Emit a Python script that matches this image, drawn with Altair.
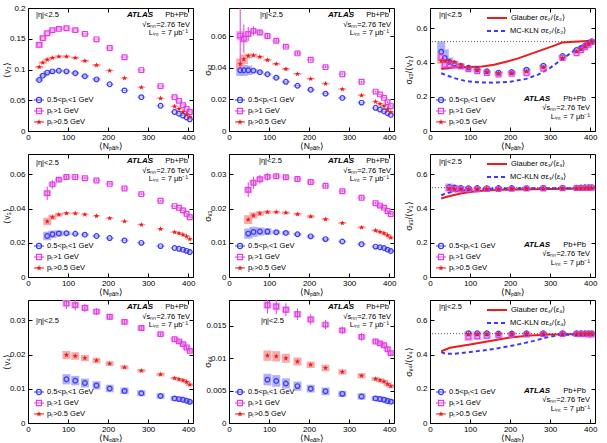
import altair as alt
import pandas as pd

# ---------------- data ----------------
N_V2 = [28, 37, 48, 61, 77, 96, 118, 142, 171, 204, 241, 283, 331, 366, 377, 387, 396, 404]
N_V3 = [48, 61, 77, 96, 118, 142, 171, 204, 241, 283, 331, 366, 377, 387, 396, 404]
N_V4 = [96, 118, 142, 171, 204, 241, 283, 331, 366, 377, 387, 396, 404]

# row 1 : <v2>, sigma_v2, sigma/<v2>
V2_MID = [0.083, 0.090, 0.095, 0.097, 0.098, 0.097, 0.094, 0.089, 0.084, 0.076, 0.066, 0.055, 0.041, 0.031, 0.028, 0.025, 0.022, 0.019]
V2_HIGH = [0.140, 0.151, 0.159, 0.164, 0.166, 0.167, 0.164, 0.158, 0.149, 0.135, 0.120, 0.099, 0.073, 0.055, 0.049, 0.042, 0.036, 0.031]
V2_ALL = [0.104, 0.111, 0.116, 0.119, 0.121, 0.121, 0.119, 0.114, 0.107, 0.098, 0.086, 0.071, 0.053, 0.040, 0.036, 0.031, 0.027, 0.023]
V2_MID_SYS = [0.002, 0.002, 0.002, 0.002, 0.002, 0.002, 0.002, 0.002, 0.002, 0.001, 0.001, 0.001, 0.001, 0.001, 0.001, 0.001, 0.001, 0.001]
V2_HIGH_SYS = [0.005, 0.004, 0.003, 0.003, 0.003, 0.003, 0.003, 0.002, 0.002, 0.002, 0.002, 0.002, 0.002, 0.002, 0.002, 0.002, 0.002, 0.002]
V2_ALL_SYS = [0.002, 0.002, 0.002, 0.002, 0.002, 0.002, 0.002, 0.002, 0.002, 0.001, 0.001, 0.001, 0.001, 0.001, 0.001, 0.001, 0.001, 0.001]

S2_MID = [0.0385, 0.0385, 0.0385, 0.0383, 0.0373, 0.0360, 0.0338, 0.0312, 0.0287, 0.0262, 0.0237, 0.0210, 0.0180, 0.0147, 0.0136, 0.0125, 0.0113, 0.0102]
S2_HIGH = [0.0605, 0.0585, 0.0615, 0.0635, 0.0625, 0.0602, 0.0572, 0.0535, 0.0492, 0.0452, 0.0405, 0.0360, 0.0312, 0.0250, 0.0232, 0.0210, 0.0182, 0.0158]
S2_ALL = [0.0425, 0.0455, 0.0476, 0.0480, 0.0470, 0.0450, 0.0425, 0.0393, 0.0362, 0.0331, 0.0300, 0.0265, 0.0226, 0.0186, 0.0172, 0.0157, 0.0138, 0.0120]
S2_MID_SYS = [0.0035, 0.0035, 0.0030, 0.0010, 0.0008, 0.0008, 0.0007, 0.0007, 0.0006, 0.0006, 0.0005, 0.0005, 0.0005, 0.0004, 0.0004, 0.0004, 0.0004, 0.0004]
S2_HIGH_SYS = [0.0030, 0.0025, 0.0015, 0.0012, 0.0010, 0.0010, 0.0009, 0.0008, 0.0008, 0.0007, 0.0007, 0.0006, 0.0006, 0.0005, 0.0005, 0.0005, 0.0005, 0.0005]
S2_HIGH_STAT = [0.0200, 0.0090, 0.0045, 0.0030, 0.0020, 0.0015, 0.0012, 0.0010, 0.0009, 0.0008, 0.0007, 0.0006, 0.0006, 0.0005, 0.0005, 0.0005, 0.0005, 0.0005]
S2_ALL_SYS = [0.0035, 0.0030, 0.0015, 0.0010, 0.0008, 0.0008, 0.0007, 0.0007, 0.0006, 0.0006, 0.0005, 0.0005, 0.0005, 0.0004, 0.0004, 0.0004, 0.0004, 0.0004]

R2_MID = [0.464, 0.428, 0.405, 0.395, 0.381, 0.371, 0.360, 0.350, 0.342, 0.345, 0.359, 0.382, 0.439, 0.474, 0.486, 0.500, 0.514, 0.526]
R2_HIGH = [0.432, 0.388, 0.387, 0.387, 0.377, 0.361, 0.349, 0.339, 0.330, 0.335, 0.338, 0.364, 0.427, 0.455, 0.473, 0.490, 0.505, 0.520]
R2_ALL = [0.409, 0.410, 0.410, 0.403, 0.388, 0.372, 0.357, 0.345, 0.338, 0.338, 0.349, 0.373, 0.426, 0.465, 0.478, 0.495, 0.511, 0.524]
R2_MID_SYS = [0.060, 0.050, 0.025, 0.015, 0.010, 0.008, 0.008, 0.008, 0.008, 0.008, 0.008, 0.008, 0.008, 0.008, 0.008, 0.008, 0.008, 0.008]
R2_HIGH_SYS = [0.030, 0.030, 0.020, 0.012, 0.010, 0.008, 0.008, 0.008, 0.008, 0.008, 0.008, 0.008, 0.008, 0.008, 0.008, 0.008, 0.008, 0.008]
R2_ALL_SYS = [0.015, 0.012, 0.010, 0.008, 0.008, 0.006, 0.006, 0.006, 0.006, 0.006, 0.006, 0.006, 0.006, 0.006, 0.006, 0.006, 0.006, 0.006]

# row 2 : <v3>, sigma_v3, sigma/<v3>
V3_MID = [0.0240, 0.0250, 0.0255, 0.0256, 0.0253, 0.0248, 0.0240, 0.0228, 0.0214, 0.0200, 0.0181, 0.0170, 0.0165, 0.0160, 0.0153, 0.0146]
V3_HIGH = [0.0490, 0.0542, 0.0570, 0.0585, 0.0585, 0.0578, 0.0565, 0.0545, 0.0518, 0.0485, 0.0446, 0.0415, 0.0405, 0.0390, 0.0370, 0.0350]
V3_ALL = [0.0325, 0.0350, 0.0365, 0.0373, 0.0372, 0.0366, 0.0357, 0.0344, 0.0326, 0.0306, 0.0281, 0.0262, 0.0256, 0.0248, 0.0238, 0.0222]
V3_MID_SYS = [0.0025, 0.0022, 0.0018, 0.0012, 0.0007, 0.0006, 0.0006, 0.0005, 0.0005, 0.0005, 0.0005, 0.0004, 0.0004, 0.0004, 0.0004, 0.0004]
V3_HIGH_SYS = [0.0015, 0.0012, 0.0010, 0.0010, 0.0008, 0.0008, 0.0008, 0.0008, 0.0007, 0.0007, 0.0007, 0.0006, 0.0006, 0.0006, 0.0006, 0.0006]
V3_HIGH_STAT = [0.0040, 0.0025, 0.0012, 0.0010, 0.0008, 0.0006, 0.0005, 0.0005, 0.0004, 0.0004, 0.0004, 0.0003, 0.0003, 0.0003, 0.0003, 0.0003]
V3_ALL_SYS = [0.0022, 0.0015, 0.0010, 0.0007, 0.0006, 0.0005, 0.0005, 0.0005, 0.0004, 0.0004, 0.0004, 0.0004, 0.0004, 0.0004, 0.0004, 0.0004]

S3_MID = [0.0127, 0.0132, 0.0133, 0.0133, 0.0131, 0.0129, 0.0125, 0.0119, 0.0111, 0.0104, 0.0096, 0.0089, 0.0087, 0.0085, 0.0080, 0.0076]
S3_HIGH = [0.0255, 0.0276, 0.0286, 0.0293, 0.0295, 0.0292, 0.0287, 0.0278, 0.0267, 0.0251, 0.0232, 0.0216, 0.0209, 0.0203, 0.0193, 0.0184]
S3_ALL = [0.0168, 0.0180, 0.0186, 0.0190, 0.0190, 0.0188, 0.0184, 0.0177, 0.0169, 0.0158, 0.0145, 0.0136, 0.0132, 0.0128, 0.0122, 0.0115]
S3_MID_SYS = [0.0015, 0.0015, 0.0012, 0.0010, 0.0006, 0.0005, 0.0004, 0.0004, 0.0004, 0.0003, 0.0003, 0.0003, 0.0003, 0.0003, 0.0003, 0.0003]
S3_HIGH_SYS = [0.0010, 0.0008, 0.0007, 0.0006, 0.0005, 0.0005, 0.0005, 0.0005, 0.0004, 0.0004, 0.0004, 0.0004, 0.0004, 0.0004, 0.0004, 0.0004]
S3_HIGH_STAT = [0.0022, 0.0018, 0.0013, 0.0011, 0.0008, 0.0006, 0.0005, 0.0004, 0.0004, 0.0004, 0.0003, 0.0003, 0.0003, 0.0003, 0.0003, 0.0003]
S3_ALL_SYS = [0.0013, 0.0009, 0.0007, 0.0005, 0.0004, 0.0004, 0.0004, 0.0004, 0.0003, 0.0003, 0.0003, 0.0003, 0.0003, 0.0003, 0.0003, 0.0003]

R3_MID = [0.527, 0.524, 0.522, 0.520, 0.521, 0.520, 0.521, 0.521, 0.520, 0.521, 0.522, 0.523, 0.524, 0.525, 0.525, 0.526]
R3_HIGH = [0.520, 0.515, 0.512, 0.513, 0.514, 0.515, 0.515, 0.516, 0.517, 0.518, 0.519, 0.520, 0.520, 0.521, 0.521, 0.522]
R3_ALL = [0.518, 0.516, 0.516, 0.515, 0.515, 0.516, 0.516, 0.516, 0.517, 0.518, 0.519, 0.519, 0.520, 0.520, 0.521, 0.521]
R3_MID_SYS = [0.020, 0.015, 0.010, 0.008, 0.006, 0.005, 0.005, 0.005, 0.005, 0.005, 0.005, 0.005, 0.005, 0.005, 0.005, 0.005]
R3_HIGH_SYS = [0.025, 0.020, 0.015, 0.012, 0.010, 0.008, 0.006, 0.005, 0.005, 0.005, 0.005, 0.005, 0.005, 0.005, 0.005, 0.005]
R3_ALL_SYS = [0.012, 0.010, 0.008, 0.006, 0.005, 0.005, 0.005, 0.005, 0.005, 0.005, 0.005, 0.005, 0.005, 0.005, 0.005, 0.005]

# row 3 : <v4>, sigma_v4, sigma/<v4>
V4_MID = [0.0128, 0.0124, 0.0117, 0.0110, 0.0101, 0.0094, 0.0087, 0.0079, 0.0072, 0.0070, 0.0068, 0.0065, 0.0062]
V4_HIGH = [0.0350, 0.0345, 0.0337, 0.0326, 0.0311, 0.0296, 0.0278, 0.0260, 0.0245, 0.0239, 0.0231, 0.0221, 0.0211]
V4_ALL = [0.0199, 0.0196, 0.0190, 0.0183, 0.0174, 0.0163, 0.0153, 0.0142, 0.0131, 0.0128, 0.0125, 0.0120, 0.0112]
V4_MID_SYS = [0.0015, 0.0014, 0.0013, 0.0012, 0.0011, 0.0010, 0.0009, 0.0008, 0.0007, 0.0007, 0.0006, 0.0006, 0.0006]
V4_HIGH_SYS = [0.0010, 0.0010, 0.0009, 0.0008, 0.0008, 0.0007, 0.0007, 0.0006, 0.0006, 0.0006, 0.0006, 0.0006, 0.0005]
V4_HIGH_STAT = [0.0016, 0.0015, 0.0012, 0.0010, 0.0008, 0.0007, 0.0006, 0.0005, 0.0005, 0.0005, 0.0005, 0.0005, 0.0005]
V4_ALL_SYS = [0.0012, 0.0011, 0.0009, 0.0008, 0.0007, 0.0006, 0.0005, 0.0005, 0.0004, 0.0004, 0.0004, 0.0004, 0.0004]

S4_MID = [0.0067, 0.0065, 0.0061, 0.0057, 0.0053, 0.0049, 0.0045, 0.0041, 0.0038, 0.0037, 0.0036, 0.0034, 0.0033]
S4_HIGH = [0.0182, 0.0180, 0.0175, 0.0168, 0.0160, 0.0152, 0.0143, 0.0133, 0.0126, 0.0123, 0.0120, 0.0114, 0.0108]
S4_ALL = [0.0104, 0.0103, 0.0100, 0.0095, 0.0090, 0.0085, 0.0079, 0.0073, 0.0068, 0.0066, 0.0064, 0.0060, 0.0057]
S4_MID_SYS = [0.0009, 0.0009, 0.0008, 0.0007, 0.0006, 0.0006, 0.0005, 0.0005, 0.0004, 0.0004, 0.0004, 0.0004, 0.0004]
S4_HIGH_SYS = [0.0006, 0.0006, 0.0005, 0.0005, 0.0005, 0.0004, 0.0004, 0.0004, 0.0003, 0.0003, 0.0003, 0.0003, 0.0003]
S4_HIGH_STAT = [0.0013, 0.0012, 0.0010, 0.0009, 0.0008, 0.0007, 0.0006, 0.0006, 0.0004, 0.0004, 0.0004, 0.0004, 0.0004]
S4_ALL_SYS = [0.0008, 0.0008, 0.0007, 0.0006, 0.0005, 0.0005, 0.0004, 0.0004, 0.0003, 0.0003, 0.0003, 0.0003, 0.0003]

R4_MID = [0.525, 0.525, 0.525, 0.524, 0.524, 0.525, 0.525, 0.526, 0.526, 0.526, 0.525, 0.525, 0.525]
R4_HIGH = [0.505, 0.508, 0.510, 0.513, 0.516, 0.518, 0.520, 0.520, 0.520, 0.520, 0.520, 0.518, 0.518]
R4_ALL = [0.520, 0.521, 0.522, 0.522, 0.523, 0.523, 0.523, 0.523, 0.523, 0.523, 0.523, 0.523, 0.523]
R4_MID_SYS = [0.012, 0.010, 0.010, 0.008, 0.008, 0.006, 0.006, 0.006, 0.006, 0.006, 0.006, 0.006, 0.006]
R4_HIGH_SYS = [0.025, 0.022, 0.018, 0.014, 0.010, 0.008, 0.006, 0.006, 0.006, 0.006, 0.006, 0.006, 0.006]
R4_ALL_SYS = [0.010, 0.008, 0.008, 0.006, 0.006, 0.005, 0.005, 0.005, 0.005, 0.005, 0.005, 0.005, 0.005]

# model curves sigma_eps/<eps>
GLAUBER_N2 = [28, 60, 100, 130, 160, 190, 220, 250, 280, 310, 330, 360, 404]
GLAUBER_E2 = [0.365, 0.372, 0.375, 0.378, 0.388, 0.405, 0.425, 0.450, 0.475, 0.500, 0.518, 0.522, 0.528]
MCKLN_N2 = [28, 60, 90, 120, 160, 200, 240, 270, 300, 330, 360, 385, 404]
MCKLN_E2 = [0.338, 0.310, 0.292, 0.285, 0.283, 0.288, 0.305, 0.330, 0.370, 0.420, 0.470, 0.505, 0.527]
GLAUBER_N3 = [28, 40, 60, 80, 100, 130, 170, 220, 300, 404]
GLAUBER_E3 = [0.460, 0.468, 0.480, 0.490, 0.497, 0.505, 0.510, 0.512, 0.515, 0.518]
MCKLN_N3 = [28, 40, 60, 80, 100, 130, 170, 220, 300, 404]
MCKLN_E3 = [0.478, 0.490, 0.500, 0.505, 0.510, 0.515, 0.518, 0.520, 0.520, 0.520]
GLAUBER_N4 = [28, 50, 100, 150, 200, 250, 300, 350, 404]
GLAUBER_E4 = [0.420, 0.440, 0.460, 0.480, 0.500, 0.512, 0.518, 0.520, 0.520]
MCKLN_N4 = [28, 40, 60, 100, 150, 200, 250, 290, 320, 404]
MCKLN_E4 = [0.415, 0.405, 0.405, 0.415, 0.430, 0.450, 0.475, 0.500, 0.515, 0.520]
GAUSS_LIMIT = [0.523]

# ---------------- style ----------------
FONT = "Liberation Sans"
W, H = 165, 123
XDOM = [0, 412]
XTICKS = [0, 100, 200, 300, 400]
BOXW = 10
BLUE, PINK, RED = "#3a3af5", "#e040e0", "#ec1c1c"
COL = {"mid": BLUE, "high": PINK, "all": RED}
BOXC = {"mid": "#a9a9f7", "high": "#f4a6f4", "all": "#f6a3a3"}
STAR = ("M0,-1L0.235,-0.324L0.951,-0.309L0.38,0.124L0.588,0.809L0,0.4"
        "L-0.588,0.809L-0.38,0.124L-0.951,-0.309L-0.235,-0.324Z")
SHAPE = {"mid": "circle", "high": "square", "all": STAR}
FILLED = {"mid": False, "high": False, "all": True}
MSIZE = {"mid": 22, "high": 22, "all": 32}
LEG_TEXT = {"mid": "0.5<pₜ<1 GeV", "high": "pₜ>1 GeV", "all": "pₜ>0.5 GeV"}
ORDER = ["mid", "high", "all"]
ONE = pd.DataFrame({"o": [0]})


def x_main():
    return alt.Axis(orient="top", offset=-H, values=XTICKS, tickSize=4, tickColor="black",
                    labelPadding=-6, labelBaseline="top", labelAlign="center", labelFlush=False,
                    labelOverlap=False, labelFontSize=8, labelFont=FONT, labelColor="black",
                    title="⟨Nₚₐᵣₜ⟩", titleX=W / 2, titleY=14, titleAlign="center",
                    titleBaseline="middle", titleAngle=0, titleFont=FONT, titleFontSize=8.5,
                    titleFontWeight="normal", titleColor="black", domain=False, grid=False)


def x_sec():
    return alt.Axis(orient="bottom", offset=-H, values=XTICKS, tickSize=4, tickColor="black",
                    labels=False, title=None, domain=False, grid=False)


def y_main(ticks, title):
    return alt.Axis(orient="right", offset=-W, values=ticks, format="~g", tickSize=4,
                    tickColor="black", labelPadding=-7, labelAlign="right",
                    labelBaseline="middle", labelFlush=False, labelOverlap=False,
                    labelFontSize=8, labelFont=FONT, labelColor="black",
                    title=title, titleX=-22, titleY=H / 2, titleAngle=270, titleAlign="center",
                    titleBaseline="middle", titleFont=FONT, titleFontSize=8.5,
                    titleFontWeight="normal", titleColor="black", domain=False, grid=False)


def y_sec(ticks):
    return alt.Axis(orient="left", offset=-W, values=ticks, tickSize=4, tickColor="black",
                    labels=False, title=None, domain=False, grid=False)


def txt(t, px, py, align="left", size=7.5, weight="normal", style="normal"):
    return alt.Chart(ONE).mark_text(text=t, align=align, baseline="middle", font=FONT,
                                    fontSize=size, fontWeight=weight, fontStyle=style,
                                    color="black").encode(x=alt.value(px), y=alt.value(py))


def hline(x1, x2, py, color, width=1.0, dash=None):
    kw = dict(color=color, strokeWidth=width)
    if dash:
        kw["strokeDash"] = dash
    return alt.Chart(ONE).mark_rule(**kw).encode(x=alt.value(x1), x2=alt.value(x2),
                                                 y=alt.value(py))


def sym(key, px, py):
    return alt.Chart(ONE).mark_point(shape=SHAPE[key], filled=FILLED[key], color=COL[key],
                                     size=MSIZE[key] + 4, strokeWidth=1.2, opacity=1).encode(
        x=alt.value(px), y=alt.value(py))


def panel(n, data, ydom, yticks, ytitle, eta, ratio=None):
    xs = alt.Scale(domain=XDOM, nice=False, zero=False)
    ys = alt.Scale(domain=ydom, nice=False, zero=False)
    frames = {}
    for k in ORDER:
        vals, sys, stat = data[k]
        st = stat if stat else [0] * len(vals)
        frames[k] = pd.DataFrame({
            "n": n, "v": vals,
            "lo": [v - s for v, s in zip(vals, sys)],
            "hi": [v + s for v, s in zip(vals, sys)],
            "elo": [v - s for v, s in zip(vals, st)],
            "ehi": [v + s for v, s in zip(vals, st)],
            "nlo": [x - BOXW for x in n], "nhi": [x + BOXW for x in n],
        })
    layers = []
    for i, k in enumerate(ORDER):
        layers.append(alt.Chart(frames[k]).mark_rect(color=BOXC[k], opacity=0.9, clip=True).encode(
            x=alt.X("nlo:Q", scale=xs, axis=x_sec() if i == 0 else None), x2="nhi",
            y=alt.Y("lo:Q", scale=ys, axis=y_sec(yticks) if i == 0 else None), y2="hi"))
    for k in ORDER:
        if data[k][2]:
            layers.append(alt.Chart(frames[k]).mark_rule(color=COL[k], strokeWidth=1, clip=True).encode(
                x=alt.X("n:Q", scale=xs, axis=None),
                y=alt.Y("elo:Q", scale=ys, axis=None), y2="ehi"))
    if ratio:
        harm, gn, gv, mn, mv = ratio
        layers.append(alt.Chart(pd.DataFrame({"y": GAUSS_LIMIT})).mark_rule(
            color="#555555", strokeDash=[1, 2], strokeWidth=1).encode(
            y=alt.Y("y:Q", scale=ys, axis=None)))
        layers.append(alt.Chart(pd.DataFrame({"n": gn, "v": gv})).mark_line(
            color=RED, strokeWidth=2).encode(
            x=alt.X("n:Q", scale=xs, axis=None), y=alt.Y("v:Q", scale=ys, axis=None)))
        layers.append(alt.Chart(pd.DataFrame({"n": mn, "v": mv})).mark_line(
            color=BLUE, strokeWidth=2, strokeDash=[4, 3]).encode(
            x=alt.X("n:Q", scale=xs, axis=None), y=alt.Y("v:Q", scale=ys, axis=None)))
    for i, k in enumerate(ORDER):
        layers.append(alt.Chart(frames[k]).mark_point(
            shape=SHAPE[k], filled=FILLED[k], color=COL[k], size=MSIZE[k], strokeWidth=1.2,
            opacity=1, clip=True).encode(
            x=alt.X("n:Q", scale=xs, axis=x_main() if i == 0 else None),
            y=alt.Y("v:Q", scale=ys, axis=y_main(yticks, ytitle) if i == 0 else None)))
    # annotations
    layers.append(txt("|η|<2.5", eta[0], eta[1]))
    if ratio:
        harm = ratio[0]
        layers.append(hline(57, 77, 10, RED, 2))
        layers.append(txt("Glauber σε" + harm + "/⟨ε" + harm + "⟩", 81, 10))
        layers.append(hline(57, 77, 23, BLUE, 2, [4, 3]))
        layers.append(txt("MC-KLN σε" + harm + "/⟨ε" + harm + "⟩", 80, 23))
        ay = 91
        layers.append(txt("ATLAS", W - 45, ay, "right", 8, "bold", "italic"))
        layers.append(txt("Pb+Pb", W - 9, ay, "right"))
        layers.append(txt("√sₙₙ=2.76 TeV", W - 5, ay + 9, "right"))
        layers.append(txt("Lᵢₙₜ = 7 μb⁻¹", W - 5, ay + 18, "right"))
    else:
        layers.append(txt("ATLAS", W - 40, 7, "right", 8, "bold", "italic"))
        layers.append(txt("Pb+Pb", W - 5, 7, "right"))
        layers.append(txt("√sₙₙ=2.76 TeV", W - 3, 17, "right"))
        layers.append(txt("Lᵢₙₜ = 7 μb⁻¹", W - 5, 25, "right"))
    for j, k in enumerate(ORDER):
        py = H - 31 + 11 * j
        layers.append(hline(6, 16, py, COL[k], 1))
        layers.append(sym(k, 11, py))
        layers.append(txt(LEG_TEXT[k], 19, py))
    return alt.layer(*layers).resolve_axis(x="independent", y="independent").properties(
        width=W, height=H)


RAT = [0, 0.2, 0.4, 0.6]
p1 = panel(N_V2, {"mid": (V2_MID, V2_MID_SYS, None), "high": (V2_HIGH, V2_HIGH_SYS, None),
                  "all": (V2_ALL, V2_ALL_SYS, None)},
           [0, 0.2], [0, 0.05, 0.1, 0.15, 0.2], "⟨v₂⟩", (8, 7))
p2 = panel(N_V2, {"mid": (S2_MID, S2_MID_SYS, None), "high": (S2_HIGH, S2_HIGH_SYS, S2_HIGH_STAT),
                  "all": (S2_ALL, S2_ALL_SYS, None)},
           [0, 0.078], [0, 0.02, 0.04, 0.06], "σᵥ₂", (31, 7))
p3 = panel(N_V2, {"mid": (R2_MID, R2_MID_SYS, None), "high": (R2_HIGH, R2_HIGH_SYS, None),
                  "all": (R2_ALL, R2_ALL_SYS, None)},
           [0, 0.72], RAT, "σᵥ₂/⟨v₂⟩", (9, 7),
           ratio=("₂", GLAUBER_N2, GLAUBER_E2, MCKLN_N2, MCKLN_E2))
p4 = panel(N_V3, {"mid": (V3_MID, V3_MID_SYS, None), "high": (V3_HIGH, V3_HIGH_SYS, V3_HIGH_STAT),
                  "all": (V3_ALL, V3_ALL_SYS, None)},
           [0, 0.072], [0, 0.02, 0.04, 0.06], "⟨v₃⟩", (8, 9))
p5 = panel(N_V3, {"mid": (S3_MID, S3_MID_SYS, None), "high": (S3_HIGH, S3_HIGH_SYS, S3_HIGH_STAT),
                  "all": (S3_ALL, S3_ALL_SYS, None)},
           [0, 0.036], [0, 0.01, 0.02, 0.03], "σᵥ₃", (30, 7))
p6 = panel(N_V3, {"mid": (R3_MID, R3_MID_SYS, None), "high": (R3_HIGH, R3_HIGH_SYS, None),
                  "all": (R3_ALL, R3_ALL_SYS, None)},
           [0, 0.72], RAT, "σᵥ₃/⟨v₃⟩", (9, 8),
           ratio=("₃", GLAUBER_N3, GLAUBER_E3, MCKLN_N3, MCKLN_E3))
p7 = panel(N_V4, {"mid": (V4_MID, V4_MID_SYS, None), "high": (V4_HIGH, V4_HIGH_SYS, V4_HIGH_STAT),
                  "all": (V4_ALL, V4_ALL_SYS, None)},
           [0, 0.036], [0, 0.01, 0.02, 0.03], "⟨v₄⟩", (8, 21))
p8 = panel(N_V4, {"mid": (S4_MID, S4_MID_SYS, None), "high": (S4_HIGH, S4_HIGH_SYS, S4_HIGH_STAT),
                  "all": (S4_ALL, S4_ALL_SYS, None)},
           [0, 0.019], [0, 0.005, 0.01, 0.015], "σᵥ₄", (32, 21))
p9 = panel(N_V4, {"mid": (R4_MID, R4_MID_SYS, None), "high": (R4_HIGH, R4_HIGH_SYS, None),
                  "all": (R4_ALL, R4_ALL_SYS, None)},
           [0, 0.72], RAT, "σᵥ₄/⟨v₄⟩", (9, 7),
           ratio=("₄", GLAUBER_N4, GLAUBER_E4, MCKLN_N4, MCKLN_E4))

chart = alt.concat(p1, p2, p3, p4, p5, p6, p7, p8, p9, columns=3,
                   spacing={"row": 23, "column": 36}, bounds="flush").properties(
    padding={"left": 1, "top": 3, "right": 2, "bottom": 0}, background="white"
).configure_view(stroke="black", strokeWidth=1)

chart.save("out.html", embed_options={"renderer": "svg", "actions": False})
